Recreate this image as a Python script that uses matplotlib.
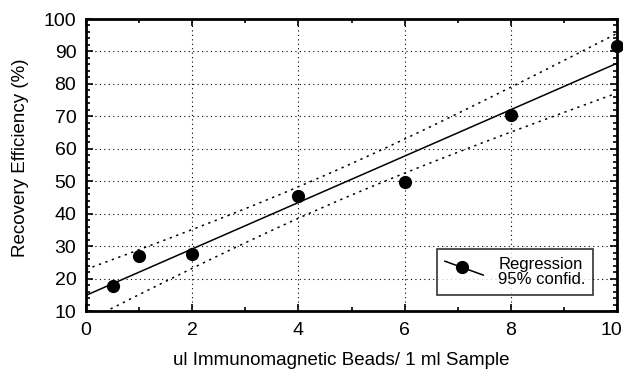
import numpy as np
import matplotlib.pyplot as plt
from matplotlib.ticker import MultipleLocator
from matplotlib.legend_handler import HandlerLine2D
from matplotlib.lines import Line2D
import matplotlib.transforms as mtransforms

plt.rcParams['font.family'] = ['Liberation Sans', 'DejaVu Sans']

# data
beads_ul = [0.5, 1, 2, 4, 6, 8, 10]
recovery_pct = [17.7, 26.8, 27.5, 45.3, 49.9, 70.3, 91.6]
x_ticks = [0, 2, 4, 6, 8, 10]
y_ticks = [10, 20, 30, 40, 50, 60, 70, 80, 90, 100]

# linear regression with 95% confidence band of the mean
x = np.array(beads_ul)
y = np.array(recovery_pct)
n = len(x)
slope, intercept = np.polyfit(x, y, 1)
resid = y - (intercept + slope * x)
s = np.sqrt(np.sum(resid ** 2) / (n - 2))
t95 = 2.571  # t(0.975, df=5)
xx = np.linspace(0, 10, 200)
yy = intercept + slope * xx
se = s * np.sqrt(1 / n + (xx - x.mean()) ** 2 / np.sum((x - x.mean()) ** 2))


class SlantedHandler(HandlerLine2D):
    # legend key drawn as a falling line with the marker in the middle
    def create_artists(self, legend, orig_handle, xdescent, ydescent,
                       width, height, fontsize, trans):
        x0, x1 = -xdescent, -xdescent + width
        yc = -ydescent + height / 2 + 3
        y0, y1 = yc + 5, yc - 5
        ln = Line2D([x0, x1], [y0, y1], color='black', lw=1.1)
        mk = Line2D([x0 + 0.45 * (x1 - x0)], [y0 - 0.45 * (y0 - y1)], marker='o',
                    color='black', ms=8.5, ls='none')
        for a in (ln, mk):
            a.set_transform(trans)
        return [ln, mk]


fig = plt.figure(figsize=(6.23, 3.73), dpi=100)
ax = fig.add_axes([86 / 623, 1 - 311 / 373, 531 / 623, 292 / 373])

ax.plot(xx, yy, color='black', lw=1.1, zorder=3)
ax.plot(xx, yy + t95 * se, color='black', lw=1.1, ls=(0, (1.5, 3)), zorder=3)
ax.plot(xx, yy - t95 * se, color='black', lw=1.1, ls=(0, (1.5, 3)), zorder=3)
ax.plot(beads_ul, recovery_pct, 'o', color='black', ms=8.5, zorder=4, clip_on=False)

h, = ax.plot([], [], marker='o', color='black', ms=8.5, lw=1.1)
leg = ax.legend([h], ['Regression\n95% confid.'], loc='lower right',
                bbox_to_anchor=(0.955, 0.055), fontsize=12, frameon=True,
                fancybox=False, edgecolor='black', handlelength=2.3,
                borderpad=0.45, handletextpad=0.9, borderaxespad=0,
                handler_map={h: SlantedHandler()})
leg.get_frame().set_linewidth(1.2)
leg.get_texts()[0].set_linespacing(1.05)

ax.set_xlim(0, 10)
ax.set_ylim(10, 100)
ax.set_xticks(x_ticks)
ax.set_yticks(y_ticks)
ax.xaxis.set_minor_locator(MultipleLocator(1))
ax.yaxis.set_minor_locator(MultipleLocator(2))
ax.tick_params(which='both', direction='in', top=True, right=True,
               labelsize=14, width=1.2)
ax.tick_params(which='major', length=5)
ax.tick_params(axis='x', which='major', pad=8)
ax.tick_params(axis='y', which='major', pad=7)
ax.tick_params(which='minor', length=3)
ax.grid(True, which='major', color='black', ls=(0, (1, 3)), lw=0.8)
for sp in ax.spines.values():
    sp.set_linewidth(2)

# last x label sits a bit left of its tick so it stays inside the figure
lbl = ax.get_xticklabels()[-1]
lbl.set_transform(lbl.get_transform() +
                  mtransforms.ScaledTranslation(-6 / 100, 0, fig.dpi_scale_trans))

ax.set_xlabel('ul Immunomagnetic Beads/ 1 ml Sample', fontsize=13.5)
ax.set_ylabel('Recovery Efficiency (%)', fontsize=13.5, va='center')
ax.xaxis.set_label_coords(0.48, -0.142)
ax.yaxis.set_label_coords(-0.124, 0.524)

fig.savefig('out.png', dpi=100)
